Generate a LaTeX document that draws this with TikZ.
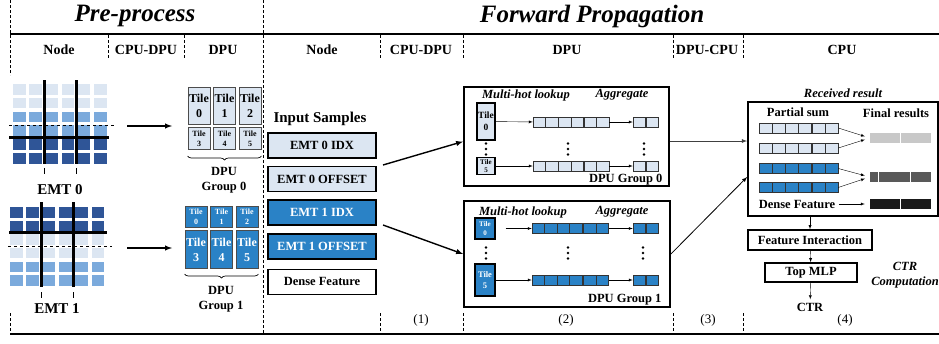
\documentclass[tikz,border=0pt]{standalone}
\usepackage{fontspec}
\setmainfont{Liberation Serif}
\usetikzlibrary{positioning, arrows, calc, decorations.pathreplacing}

\definecolor{lblue}{HTML}{DCE6F2}
\definecolor{mblue}{HTML}{7BAADC}
\definecolor{dblue}{HTML}{2F5597}
\definecolor{tblue}{HTML}{2A82C6}
\definecolor{fgray}{HTML}{C8C8C8}
\definecolor{fdark}{HTML}{595959}
\definecolor{fblack}{HTML}{1A1A1A}

\newcommand{\sz}[2]{\fontsize{#1}{#2}\selectfont}

\tikzset{
  divider/.style={dash pattern=on 3pt off 2pt, line width=0.9pt},
  hdr/.style={font=\sz{14}{16}\bfseries},
  ttl/.style={font=\sz{25}{28}\bfseries\itshape},
  lbl/.style={font=\sz{12.5}{15}\bfseries, align=center},
  ital/.style={font=\sz{12.5}{15}\bfseries\itshape, align=center},
  inbox/.style={draw, line width=1.6pt, minimum width=108, minimum height=25, inner sep=0pt, font=\sz{12.5}{15}\bfseries},
  tile/.style={draw=black!70, line width=1pt, inner sep=0pt, align=center},
  cell/.style={draw=black!80, line width=0.6pt, minimum width=12.5, minimum height=10, inner sep=0pt},
  grpbox/.style={draw, line width=1.8pt, inner sep=0pt},
  finbar/.style={minimum width=61, minimum height=10, inner sep=0pt},
  brc/.style={decorate, decoration={brace, mirror, amplitude=4pt}, line width=0.7pt},
}

\begin{document}
\begin{tikzpicture}[x=1pt, y=-1pt, >=latex]
\useasboundingbox (0,0) rectangle (939,343);

% frame and column dividers
\draw[line width=1.2pt] (10,34) -- (939,34);
\draw[line width=1.2pt] (10,334) -- (939,334);
\draw[divider] (10,0) -- (10,75);
\draw[divider] (10,313) -- (10,334);
\draw[divider] (263,0) -- (263,334);
\foreach \xx in {108,184,380,463,673,743}
  \draw[divider] (\xx,35) -- (\xx,58);
\foreach \xx in {380,463,673,743}
  \draw[divider] (\xx,313) -- (\xx,334);

\node[ttl] (tpre) at (135,16) {Pre-process};
\node[ttl] (tfwd) at (592,16) {Forward Propagation};

\node[hdr] (h1) at (59,50) {Node};
\node[hdr] (h2) at (146,50) {CPU-DPU};
\node[hdr] (h3) at (223,50) {DPU};
\node[hdr] (h4) at (322,50) {Node};
\node[hdr] (h5) at (421,50) {CPU-DPU};
\node[hdr] (h6) at (567,50) {DPU};
\node[hdr] (h7) at (707,50) {DPU-CPU};
\node[hdr] (h8) at (842,50) {CPU};

\foreach \xx/\t in {421/1, 566/2, 708/3, 845/4}
  \node[font=\sz{13}{15}] (st\t) at (\xx,320) {(\t)};

% EMT 0 table
\foreach \r/\c in {0/lblue,1/lblue,2/mblue,3/mblue,4/dblue,5/dblue}
  \foreach \k in {0,...,5}
    \fill[\c] (13.3+16.1*\k, 84+13.8*\r) rectangle ++(12.7,10.5);
\draw[line width=3pt] (44,80) -- (44,164);
\draw[line width=3pt] (76,80) -- (76,164);
\draw[line width=1pt] (44,168) -- (44,174);
\draw[line width=1pt] (76,168) -- (76,174);
\draw[line width=3pt] (9,137) -- (109,137);
\draw[dashed, line width=1pt] (9,125) -- (115,125);
\node[font=\sz{15}{17}\bfseries] (emt0) at (60,190) {EMT 0};

% EMT 1 table
\foreach \r/\c in {0/dblue,1/dblue,2/lblue,3/lblue,4/mblue,5/mblue}
  \foreach \k in {0,...,5}
    \fill[\c] (10+16.3*\k, 207.3+13.55*\r) rectangle ++(12.7,10.5);
\draw[line width=3pt] (41,202) -- (41,287);
\draw[line width=3pt] (73,202) -- (73,287);
\draw[line width=1pt] (41,292) -- (41,298);
\draw[line width=1pt] (73,292) -- (73,298);
\draw[line width=3pt] (9,232) -- (107,232);
\draw[dashed, line width=1pt] (8,246) -- (112,246);
\node[font=\sz{15}{17}\bfseries] (emt1) at (57,309) {EMT 1};

\coordinate (e0out) at (127,126);
\coordinate (e0in) at (172,126);
\coordinate (e1out) at (127,248);
\coordinate (e1in) at (172,248);
\draw[->, line width=1.4pt] (e0out) -- (e0in);
\draw[->, line width=1.4pt] (e1out) -- (e1in);

% DPU group 0 tiles
\node[tile, fill=lblue, minimum width=22, minimum height=37, font=\sz{12}{15}\bfseries] (g0t0) at (199,105.5) {Tile\\0};
\node[tile, fill=lblue, minimum width=22, minimum height=37, font=\sz{12}{15}\bfseries, right=2.5pt of g0t0] (g0t1) {Tile\\1};
\node[tile, fill=lblue, minimum width=22, minimum height=37, font=\sz{12}{15}\bfseries, right=2.5pt of g0t1] (g0t2) {Tile\\2};
\node[tile, fill=lblue, minimum width=22, minimum height=22, font=\sz{8}{10}\bfseries, below=2.5pt of g0t0] (g0t3) {Tile\\3};
\node[tile, fill=lblue, minimum width=22, minimum height=22, font=\sz{8}{10}\bfseries, below=2.5pt of g0t1] (g0t4) {Tile\\4};
\node[tile, fill=lblue, minimum width=22, minimum height=22, font=\sz{8}{10}\bfseries, below=2.5pt of g0t2] (g0t5) {Tile\\5};
\draw[brc] ([yshift=-6pt]g0t3.south west) -- ([yshift=-6pt]g0t5.south east);
\node[lbl] (g0lbl) at (224,180.5) {DPU\\Group 0};

% DPU group 1 tiles
\node[tile, fill=tblue, text=white, minimum width=22, minimum height=21, font=\sz{8}{10}\bfseries] (g1t0) at (196,216.5) {Tile\\0};
\node[tile, fill=tblue, text=white, minimum width=22, minimum height=21, font=\sz{8}{10}\bfseries, right=2.5pt of g1t0] (g1t1) {Tile\\1};
\node[tile, fill=tblue, text=white, minimum width=22, minimum height=21, font=\sz{8}{10}\bfseries, right=2.5pt of g1t1] (g1t2) {Tile\\2};
\node[tile, fill=tblue, text=white, minimum width=22, minimum height=38, font=\sz{12}{15}\bfseries, below=2.5pt of g1t0] (g1t3) {Tile\\3};
\node[tile, fill=tblue, text=white, minimum width=22, minimum height=38, font=\sz{12}{15}\bfseries, below=2.5pt of g1t1] (g1t4) {Tile\\4};
\node[tile, fill=tblue, text=white, minimum width=22, minimum height=38, font=\sz{12}{15}\bfseries, below=2.5pt of g1t2] (g1t5) {Tile\\5};
\draw[brc] ([yshift=-5pt]g1t3.south west) -- ([yshift=-5pt]g1t5.south east);
\node[lbl] (g1lbl) at (221,299.5) {DPU\\Group 1};

% input samples
\node[font=\sz{15}{17}\bfseries] (insamp) at (320,119) {Input Samples};
\node[inbox, fill=lblue] (idx0) at (322,145.5) {EMT 0 IDX};
\node[inbox, fill=lblue, below=7pt of idx0] (off0) {EMT 0 OFFSET};
\node[inbox, fill=tblue, text=white, below=7pt of off0] (idx1) {EMT 1 IDX};
\node[inbox, fill=tblue, text=white, below=7pt of idx1] (off1) {EMT 1 OFFSET};
\node[inbox, fill=white, below=9pt of off1] (dense) {Dense Feature};

% DPU group boxes
\node[grpbox, minimum width=205, minimum height=99] (grp0) at (566.5,136.5) {};
\node[grpbox, minimum width=206, minimum height=106] (grp1) at (567,254) {};

\coordinate (in0) at (383,165);
\coordinate (in1) at (383,225);
\draw[->, line width=1.4pt] (in0) -- ([yshift=-5pt]grp0.west);
\draw[->, line width=1.4pt] (in1) -- (grp1.west);

% inside group 0
\node[ital] (g0mh) at (526,95) {Multi-hot lookup};
\node[ital] (g0ag) at (622,95) {Aggregate};
\node[tile, draw=black, line width=1.3pt, fill=lblue, minimum width=18, minimum height=37, font=\sz{9.5}{12}\bfseries] (g0a) at (486,121.5) {Tile\\0};
\node[tile, draw=black, line width=1.3pt, fill=lblue, minimum width=18, minimum height=17, font=\sz{7}{8}\bfseries] (g0b) at (486,166) {Tile\\5};
\foreach \rw/\yy/\tl in {1/122/g0a, 2/166/g0b} {
  \foreach \xx [count=\k from 0] in {539.3,551.8,564.8,577.3,590.3,602.8}
    \node[cell, fill=lblue] (g0r\rw c\k) at (\xx,\yy) {};
  \node[cell, fill=lblue] (g0r\rw a0) at (639.3,\yy) {};
  \node[cell, fill=lblue, right=0pt of g0r\rw a0] (g0r\rw a1) {};
  \draw[->] (\tl) -- (g0r\rw c0);
  \draw[->] (g0r\rw c5) -- (g0r\rw a0);
}
\foreach \xx in {486,568,644}
  \foreach \dd in {-5.5,0,5.5}
    \fill (\xx,149+\dd) circle (1.3);
\node[lbl, anchor=east] (g0name) at (666,179.5) {DPU Group 0};

% inside group 1
\node[ital] (g1mh) at (523,212) {Multi-hot lookup};
\node[ital] (g1ag) at (622,212) {Aggregate};
\node[tile, draw=black, line width=1.3pt, fill=tblue, text=white, minimum width=20, minimum height=21, font=\sz{7}{8.5}\bfseries] (g1a) at (485,228.5) {Tile\\0};
\node[tile, draw=black, line width=1.3pt, fill=tblue, text=white, minimum width=20, minimum height=32, font=\sz{8.5}{11}\bfseries] (g1b) at (485,280) {Tile\\5};
\foreach \rw/\yy/\tl/\gap in {1/228.5/g1a/10pt, 2/280/g1b/0pt} {
  \foreach \xx [count=\k from 0] in {538.3,550.8,563.5,576,590,602.5}
    \node[cell, fill=tblue] (g1r\rw c\k) at (\xx,\yy) {};
  \node[cell, fill=tblue] (g1r\rw a0) at (639.3,\yy) {};
  \node[cell, fill=tblue, right=0pt of g1r\rw a0] (g1r\rw a1) {};
  \draw[->, shorten <=\gap] (\tl) -- (g1r\rw c0);
  \draw[->] (g1r\rw c5) -- (g1r\rw a0);
}
\foreach \xx in {486,568,643}
  \foreach \dd in {-5.5,0,5.5}
    \fill (\xx,253+\dd) circle (1.3);
\node[lbl, anchor=east] (g1name) at (665,300) {DPU Group 1};

% CPU side
\node[grpbox, minimum width=190, minimum height=114] (cpu) at (843,159) {};
\node[ital] (recv) at (843,93) {Received result};
\node[lbl] (psum) at (798,112) {Partial sum};
\node[lbl] (fres) at (896,113) {Final results};
\foreach \rw/\yy/\cc in {1/128/lblue, 2/148/lblue, 3/168.5/tblue, 4/187.5/tblue}
  \foreach \xx [count=\k from 0] in {765.5,778.5,792,805,818.5,831.5}
    \node[cell, fill=\cc, minimum width=13] (p\rw c\k) at (\xx,\yy) {};
\node[finbar, fill=fgray] (fin0) at (900.5,138) {};
\node[finbar, fill=fdark] (fin1) at (900.5,177) {};
\node[finbar, fill=fblack] (fin2) at (900.5,204) {};
\draw[white, line width=1pt] (fin0.north) -- (fin0.south);
\draw[white, line width=1pt] ([xshift=9pt]fin1.north west) -- ([xshift=9pt]fin1.south west);
\draw[white, line width=1pt] ([xshift=41pt]fin1.north west) -- ([xshift=41pt]fin1.south west);
\draw[white, line width=1pt] (fin2.north) -- (fin2.south);
\node[lbl] (cdense) at (797,204) {Dense Feature};

\path[->, shorten >=5pt]
  (p1c5.east) edge (fin0.west)
  (p2c5.east) edge (fin0.west)
  (p3c5.east) edge (fin1.west)
  (p4c5.east) edge (fin1.west)
  (cdense) edge (fin2.west);

\coordinate (g0o) at ([yshift=-4.5pt]grp0.east);
\draw[->, line width=0.8pt, black!75] (g0o) -- (g0o -| cpu.west);
\draw[->, line width=0.8pt] (grp1.east) -- ([yshift=-18pt]cpu.west);

\node[draw, line width=1.6pt, minimum width=124, minimum height=20, font=\sz{12.5}{15}\bfseries] (fi) at (810,240) {Feature Interaction};
\node[draw, line width=1.6pt, minimum width=92, minimum height=19, font=\sz{12.5}{15}\bfseries] (mlp) at (811,272.5) {Top MLP};
\node[lbl] (ctr) at (810,307) {CTR};
\node[ital] (ctrc) at (905,275) {CTR\\Computation};

\draw[->] (fi.north |- cpu.south) -- (fi);
\draw[->] (fi) -- (mlp);
\draw[->] (mlp) -- (ctr);

\end{tikzpicture}
\end{document}
